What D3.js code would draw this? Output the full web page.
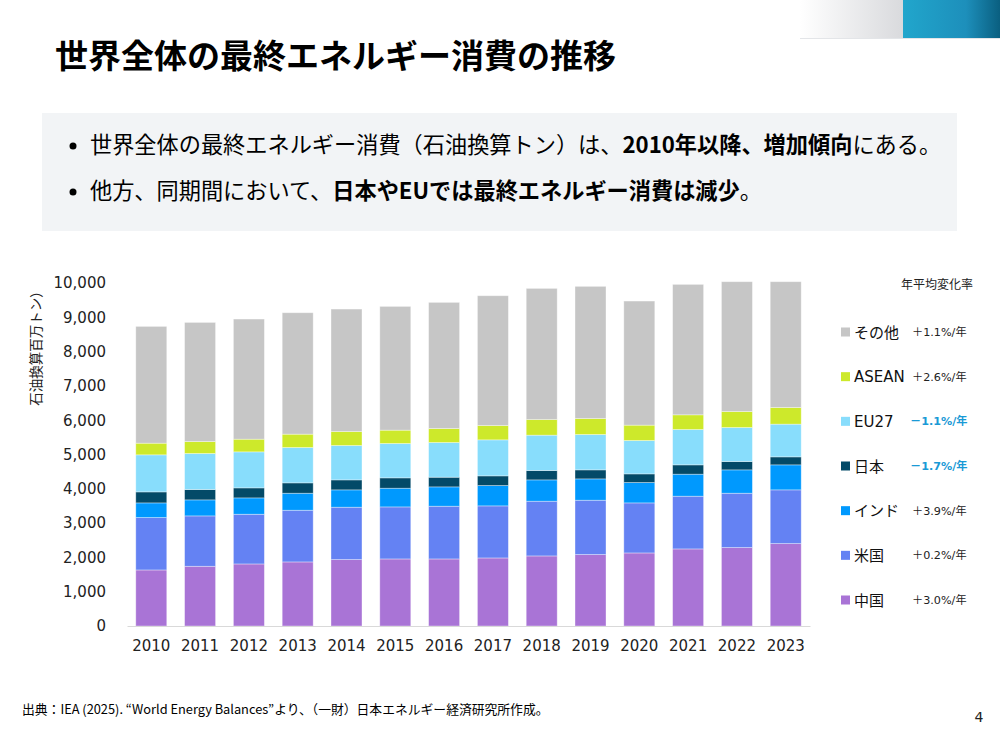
<!DOCTYPE html>
<html>
<head>
<meta charset="utf-8">
<script src="https://cdn.jsdelivr.net/npm/d3@7"></script>
<style>
  body { margin: 0; background: #fff; }
  svg { display: block; font-family: "DejaVu Sans", "Noto Sans CJK JP", sans-serif; }
</style>
</head>
<body>
<svg id="chart" width="1000" height="750"></svg>
<script>
// ── data (石油換算百万トン) ──
const years = ['2010','2011','2012','2013','2014','2015','2016','2017','2018','2019','2020','2021','2022','2023'];
const seriesKeys = ['中国','米国','インド','日本','EU27','ASEAN','その他'];
const china  = [1634,1741,1809,1868,1936,1955,1955,1984,2043,2082,2130,2247,2286,2402];
const usa    = [1527,1469,1449,1507,1527,1517,1537,1518,1595,1585,1459,1537,1585,1567];
const india  = [428,467,477,496,506,545,564,593,622,622,594,642,681,729];
const japan  = [321,301,292,302,291,302,282,282,273,263,252,272,243,233];
const eu27   = [1080,1051,1050,1031,1002,1002,1012,1050,1031,1031,973,1031,992,954];
const asean  = [340,350,370,389,409,389,408,419,457,467,448,428,467,486];
const other  = [3405,3472,3502,3540,3569,3608,3677,3783,3822,3852,3618,3803,3784,3667];
const yTicks = [0,1000,2000,3000,4000,5000,6000,7000,8000,9000,10000];
const legendOrder = ['その他','ASEAN','EU27','日本','インド','米国','中国'];
const rates = ['＋1.1%/年','＋2.6%/年','－1.1%/年','－1.7%/年','＋3.9%/年','＋0.2%/年','＋3.0%/年'];
const colors = {
  '中国': '#a974d6', '米国': '#6482f3', 'インド': '#0099fe', '日本': '#034a68',
  'EU27': '#88ddfc', 'ASEAN': '#cde92b', 'その他': '#c6c6c6'
};

const svg = d3.select('#chart');

// top-right decoration
const defs = svg.append('defs');
const g1 = defs.append('linearGradient').attr('id', 'gGray');
g1.append('stop').attr('offset', '0%').attr('stop-color', '#ffffff');
g1.append('stop').attr('offset', '100%').attr('stop-color', '#d9dadd');
const g2 = defs.append('linearGradient').attr('id', 'gBlue');
g2.append('stop').attr('offset', '0%').attr('stop-color', '#21a6cc');
g2.append('stop').attr('offset', '65%').attr('stop-color', '#1d8fbb');
g2.append('stop').attr('offset', '100%').attr('stop-color', '#0a5f80');
svg.append('rect').attr('x', 800).attr('y', 0).attr('width', 103).attr('height', 38).attr('fill', 'url(#gGray)');
svg.append('rect').attr('x', 903).attr('y', 0).attr('width', 97).attr('height', 38).attr('fill', 'url(#gBlue)');
svg.append('line').attr('x1', 800).attr('x2', 1000).attr('y1', 38.5).attr('y2', 38.5).attr('stroke', '#e3e5e8');

// title
svg.append('text')
  .attr('x', 55).attr('y', 68)
  .attr('font-family', '"Noto Sans CJK JP"')
  .attr('font-weight', 700).attr('font-size', 33)
  .attr('fill', '#000')
  .text('世界全体の最終エネルギー消費の推移');

// summary box
svg.append('rect').attr('x', 42).attr('y', 113).attr('width', 915).attr('height', 118).attr('fill', '#f2f4f6');
const bullets = [
  [['世界全体の最終エネルギー消費（石油換算トン）は、', 400], ['2010年以降、増加傾向', 700], ['にある。', 400]],
  [['他方、同期間において、', 400], ['日本やEUでは最終エネルギー消費は減少', 700], ['。', 400]]
];
bullets.forEach((parts, i) => {
  const y = 153 + i * 46;
  svg.append('circle').attr('cx', 73).attr('cy', y - 7).attr('r', 3.5).attr('fill', '#000');
  const t = svg.append('text')
    .attr('x', 90).attr('y', y)
    .attr('font-family', '"Noto Sans CJK JP"')
    .attr('font-size', 22.2).attr('fill', '#000');
  parts.forEach(([s, w]) => t.append('tspan').attr('font-weight', w).text(s));
});

// scales
const x = d3.scaleBand().domain(years).range([127, 810]).paddingInner(0.365).paddingOuter(0.18);
const y = d3.scaleLinear().domain([0, 10000]).range([626, 283]);

const table = years.map((yr, i) => ({
  year: yr,
  '中国': china[i], '米国': usa[i], 'インド': india[i], '日本': japan[i],
  'EU27': eu27[i], 'ASEAN': asean[i], 'その他': other[i]
}));
const stacked = d3.stack().keys(seriesKeys)(table);

// y axis labels
const yAxis = svg.append('g')
  .attr('transform', 'translate(110,0)')
  .call(d3.axisLeft(y).tickValues(yTicks).tickFormat(d3.format(',')).tickSize(0).tickPadding(4));
yAxis.select('.domain').remove();
yAxis.selectAll('text').attr('font-size', 15).attr('fill', '#222').attr('font-family', '"DejaVu Sans"');

svg.append('text')
  .attr('transform', 'translate(41,345) rotate(-90)')
  .attr('text-anchor', 'middle')
  .attr('font-family', '"Noto Sans CJK JP"')
  .attr('font-size', 13.5).attr('fill', '#222')
  .text('石油換算百万トン）');

// bars
svg.append('g').selectAll('g')
  .data(stacked)
  .join('g')
  .attr('fill', d => colors[d.key])
  .selectAll('rect')
  .data(d => d)
  .join('rect')
  .attr('x', d => x(d.data.year))
  .attr('width', x.bandwidth())
  .attr('y', d => y(d[1]))
  .attr('height', d => y(d[0]) - y(d[1]))
  .attr('stroke', 'rgba(255,255,255,0.45)')
  .attr('stroke-width', 0.8);

// x axis
const xAxis = svg.append('g')
  .attr('transform', 'translate(0,626)')
  .call(d3.axisBottom(x).tickSize(0).tickPadding(14));
xAxis.select('.domain').attr('stroke', '#d9d9d9').attr('stroke-width', 1.2);
xAxis.selectAll('text').attr('font-size', 15).attr('fill', '#222').attr('font-family', '"DejaVu Sans"');

// legend
svg.append('text')
  .attr('x', 901).attr('y', 289)
  .attr('font-family', '"Noto Sans CJK JP"')
  .attr('font-size', 12).attr('fill', '#222')
  .text('年平均変化率');

const ly = d3.scalePoint().domain(legendOrder).range([332, 600]);
const leg = svg.append('g').selectAll('g')
  .data(legendOrder)
  .join('g')
  .attr('transform', d => `translate(0,${ly(d)})`);
leg.append('rect')
  .attr('x', 841).attr('y', -4.5).attr('width', 9).attr('height', 9)
  .attr('fill', d => colors[d]);
leg.append('text')
  .attr('x', 854).attr('y', 5.5)
  .attr('font-size', 15).attr('fill', '#111')
  .text(d => d);
leg.append('text')
  .attr('x', (d, i) => rates[i].startsWith('－') ? 910 : 912)
  .attr('y', 4)
  .attr('font-family', '"DejaVu Sans", "Noto Sans CJK JP"')
  .attr('font-size', 11.2)
  .attr('font-weight', (d, i) => rates[i].startsWith('－') ? 700 : 400)
  .attr('fill', (d, i) => rates[i].startsWith('－') ? '#1a9ad6' : '#222')
  .text((d, i) => rates[i]);

// footer
svg.append('text')
  .attr('x', 22).attr('y', 714)
  .attr('font-family', '"Noto Sans CJK JP"')
  .attr('font-size', 12.8).attr('fill', '#000')
  .text('出典：IEA (2025). “World Energy Balances”より、（一財）日本エネルギー経済研究所作成。');
svg.append('text')
  .attr('x', 979).attr('y', 722)
  .attr('text-anchor', 'middle')
  .attr('font-size', 14).attr('fill', '#222')
  .text('4');
</script>
</body>
</html>
